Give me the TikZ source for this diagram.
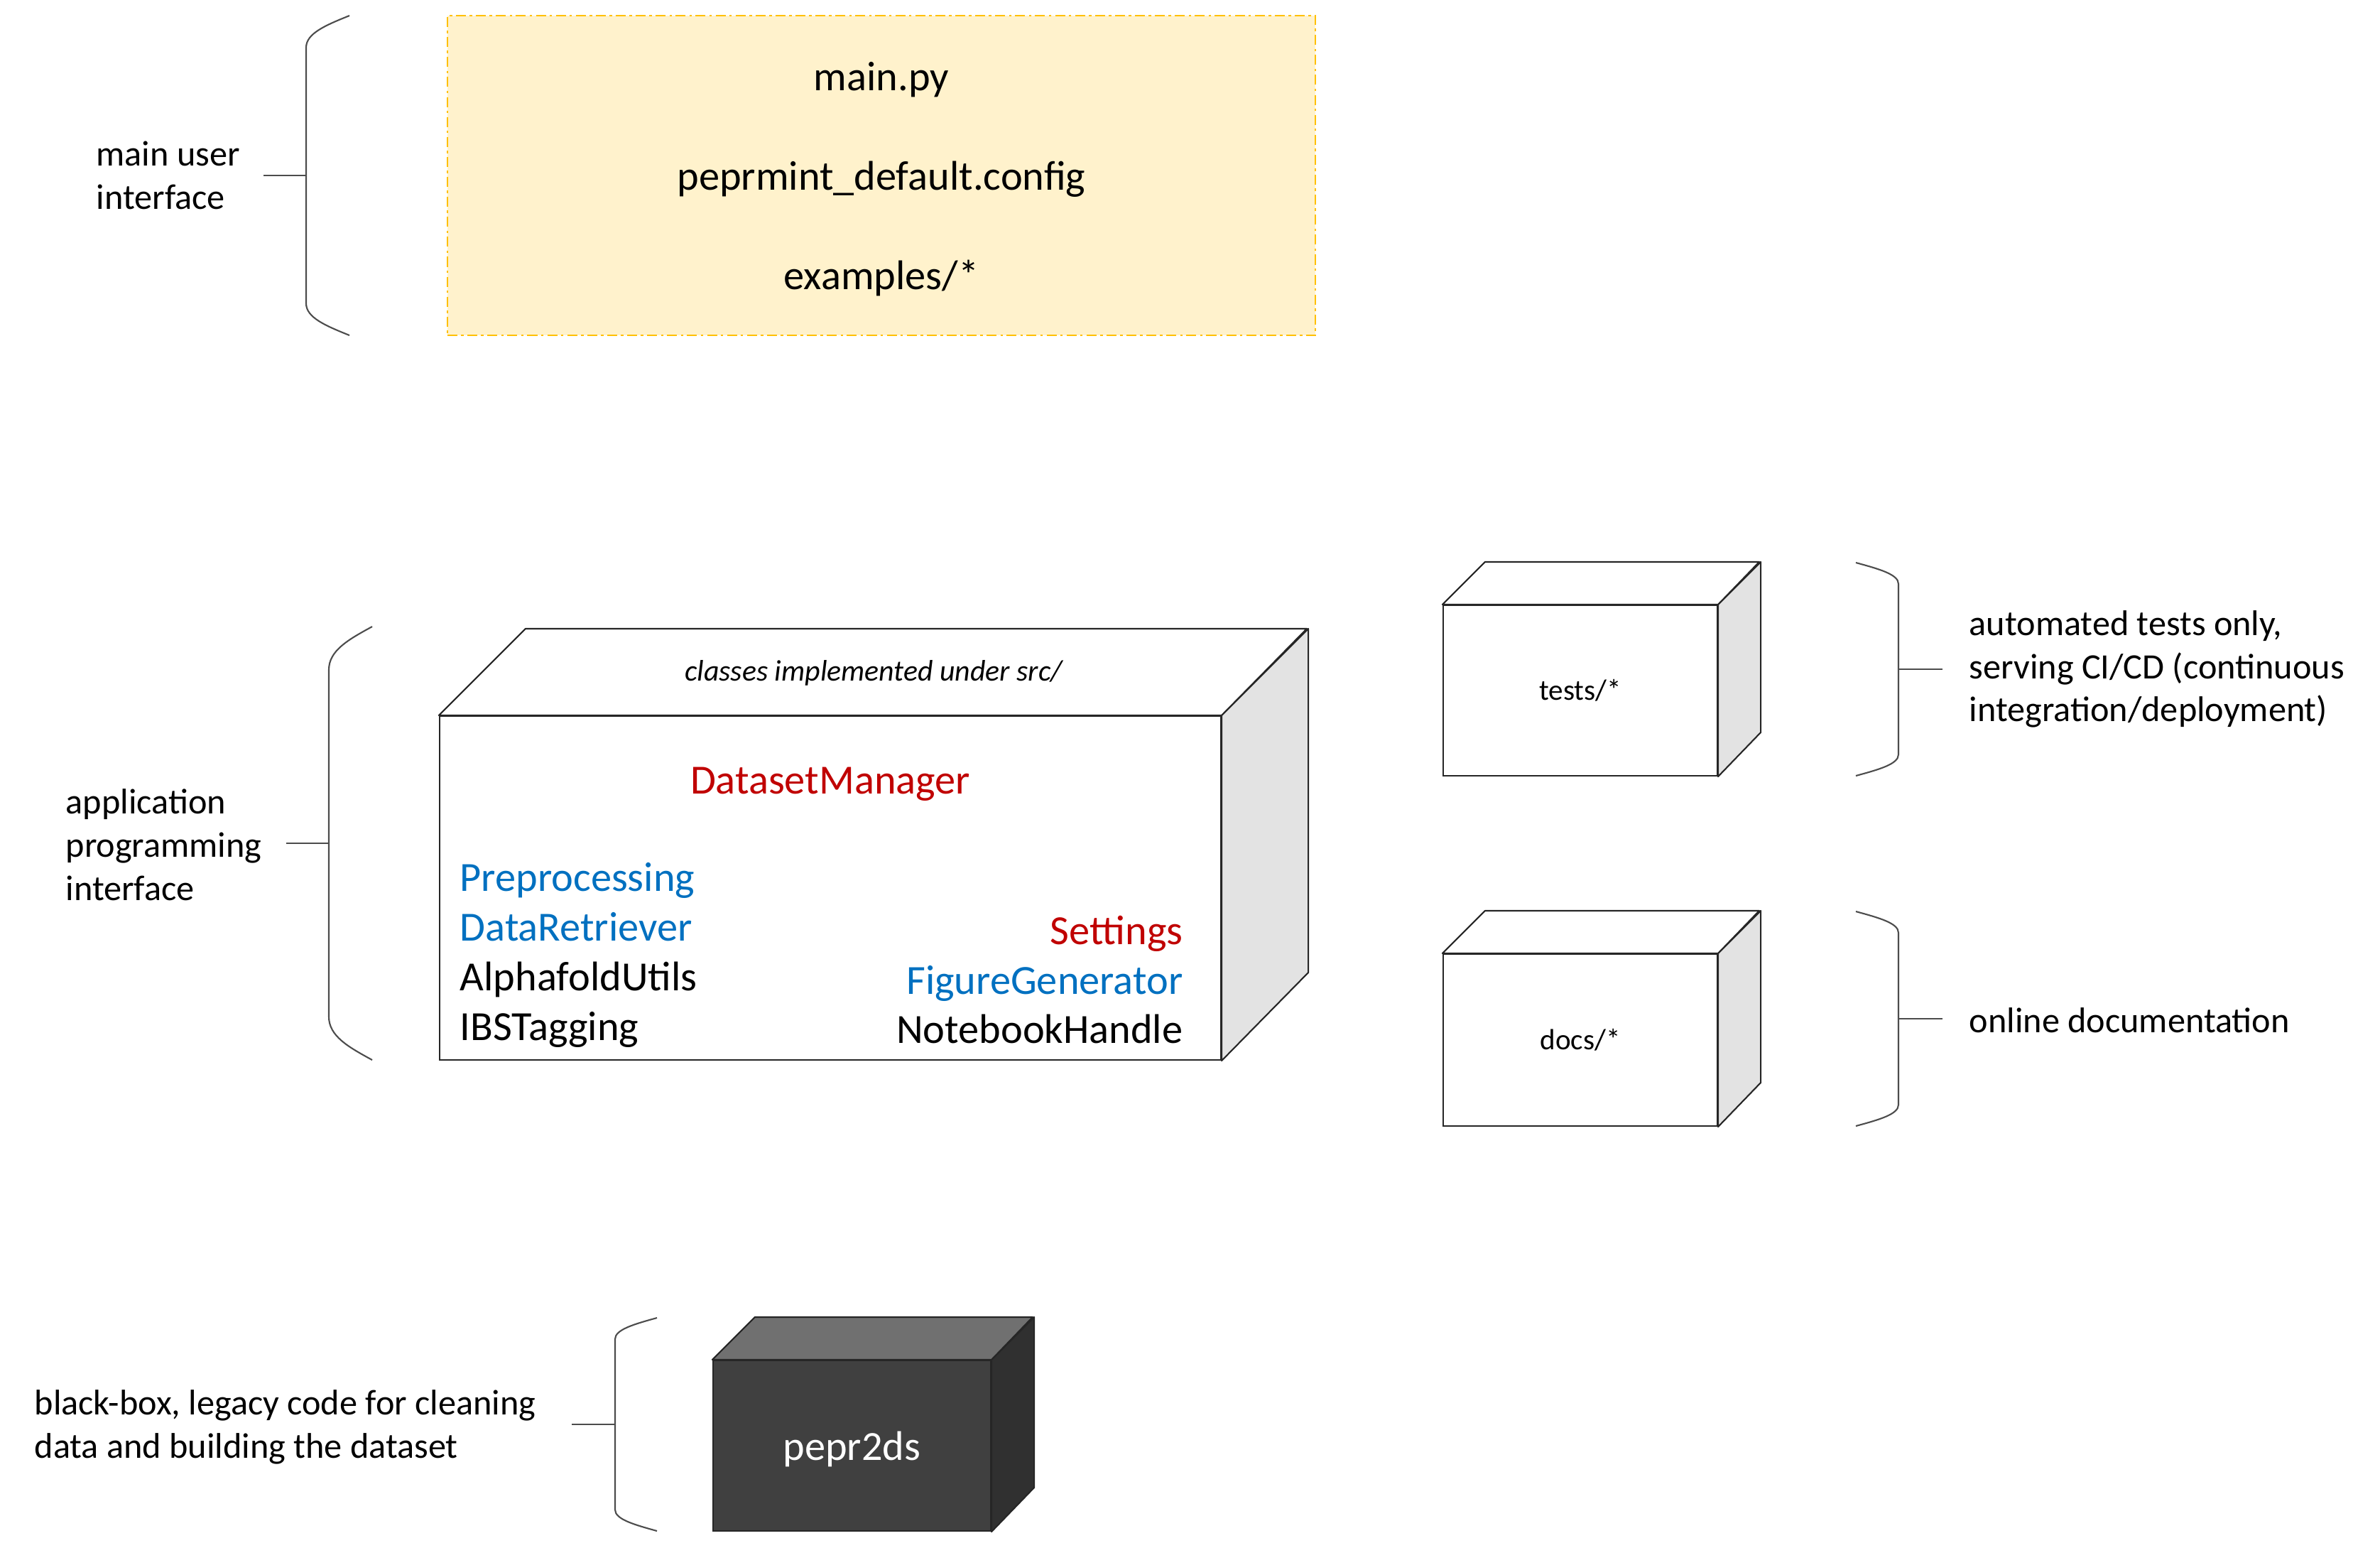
\documentclass[tikz,border=0pt]{standalone}
\usepackage{fontspec}
\setmainfont{Carlito}

\definecolor{uifill}{HTML}{FFF2CC}
\definecolor{uiline}{HTML}{FFC000}
\definecolor{clsred}{HTML}{C00000}
\definecolor{clsblue}{HTML}{0070C0}
\definecolor{sideface}{HTML}{E3E3E3}
\definecolor{darkfront}{HTML}{404040}
\definecolor{darktop}{HTML}{707070}
\definecolor{darkside}{HTML}{303030}

\begin{document}
\begin{tikzpicture}[x=1cm,y=1cm,
    frontface/.style={draw=black!85, line width=0.6pt, inner sep=0pt},
    face/.style={draw=black!85, line width=0.6pt, line join=round},
    brace/.style={draw=black!70, line width=0.6pt},
    note/.style={anchor=west, inner sep=0pt, align=left, font=\fontsize{14.3}{17.3}\selectfont},
    cls/.style={inner sep=0pt, font=\fontsize{16.6}{19.9}\selectfont}]
    \useasboundingbox (0,0) rectangle (33.51,-21.78);

    % main user interface
    \node[draw=uiline, fill=uifill, line width=0.6pt, dash pattern=on 4pt off 1.5pt on 1pt off 1.5pt, minimum width=12.22cm, minimum height=4.5cm] (ui) at (12.41,-2.47) {};
    \node[inner sep=0pt, align=center, font=\fontsize{16.6}{39.9}\selectfont] (uifiles) at ([yshift=-0.05cm]ui.center) {main.py\\peprmint\_default.config\\examples/*};
    \draw[brace] (4.92,-0.22) .. controls (4.585,-0.355) and (4.31,-0.47) .. (4.31,-0.67) -- (4.31,-4.27) .. controls (4.31,-4.47) and (4.585,-4.585) .. (4.92,-4.72);
    \coordinate (uimid) at (4.31,-2.47);
    \coordinate (uitick) at (3.71,-2.47);
    \draw[brace] (uimid) -- (uitick);
    \node[note] (uinote) at (1.35,-2.47) {main user\\interface};

    % application programming interface
    \node[frontface, minimum width=11.0cm, minimum height=4.84cm] (api) at (11.69,-12.50) {};
    \draw[face, fill=white] (api.north west) -- ++(1.22,1.22) -- ++(11.0,0) -- (api.north east) -- cycle;
    \draw[face, fill=sideface] (api.north east) -- ++(1.22,1.22) -- ++(0,-4.84) -- (api.south east) -- cycle;
    \node[inner sep=0pt, anchor=base, font=\fontsize{11.9}{14}\selectfont\itshape] (srcnote) at (12.30,-9.58) {classes implemented under src/};
    \node[cls, anchor=base, text=clsred] (manager) at (11.69,-11.17) {DatasetManager};
    \node[cls, anchor=base west, text=clsblue] (prep) at (6.47,-12.54) {Preprocessing};
    \node[cls, anchor=base west, text=clsblue] (retr) at (6.47,-13.24) {DataRetriever};
    \node[cls, anchor=base west] (alpha) at (6.47,-13.94) {AlphafoldUtils};
    \node[cls, anchor=base west] (ibs) at (6.47,-14.64) {IBSTagging};
    \node[cls, anchor=base east, text=clsred] (settings) at (16.66,-13.29) {Settings};
    \node[cls, anchor=base east, text=clsblue] (figgen) at (16.66,-13.99) {FigureGenerator};
    \node[cls, anchor=base east] (notebook) at (16.66,-14.68) {NotebookHandle};
    \draw[brace] (5.24,-8.82) .. controls (4.905,-9.003) and (4.63,-9.156) .. (4.63,-9.43) -- (4.63,-14.31) .. controls (4.63,-14.584) and (4.905,-14.737) .. (5.24,-14.92);
    \coordinate (apimid) at (4.63,-11.87);
    \coordinate (apitick) at (4.03,-11.87);
    \draw[brace] (apimid) -- (apitick);
    \node[note] (apinote) at (0.92,-11.89) {application\\programming\\interface};

    % tests and docs
    \node[frontface, minimum width=3.86cm, minimum height=2.4cm, font=\fontsize{11.7}{14}\selectfont] (tests) at (22.25,-9.72) {tests/*};
    \draw[face, fill=white] (tests.north west) -- ++(0.6,0.6) -- ++(3.86,0) -- (tests.north east) -- cycle;
    \draw[face, fill=sideface] (tests.north east) -- ++(0.6,0.6) -- ++(0,-2.4) -- (tests.south east) -- cycle;
    \node[frontface, minimum width=3.86cm, minimum height=2.42cm, font=\fontsize{11.7}{14}\selectfont] (docs) at (22.25,-14.64) {docs/*};
    \draw[face, fill=white] (docs.north west) -- ++(0.6,0.6) -- ++(3.86,0) -- (docs.north east) -- cycle;
    \draw[face, fill=sideface] (docs.north east) -- ++(0.6,0.6) -- ++(0,-2.42) -- (docs.south east) -- cycle;
    \draw[brace] (26.13,-7.92) .. controls (26.46,-8.01) and (26.73,-8.085) .. (26.73,-8.22) -- (26.73,-10.62) .. controls (26.73,-10.755) and (26.46,-10.83) .. (26.13,-10.92);
    \coordinate (testsmid) at (26.73,-9.42);
    \coordinate (teststick) at (27.35,-9.42);
    \draw[brace] (testsmid) -- (teststick);
    \node[note] (testsnote) at (27.72,-9.42) {automated tests only,\\serving CI/CD (continuous\\integration/deployment)};
    \draw[brace] (26.13,-12.83) .. controls (26.46,-12.92) and (26.73,-12.995) .. (26.73,-13.13) -- (26.73,-15.55) .. controls (26.73,-15.685) and (26.46,-15.76) .. (26.13,-15.85);
    \coordinate (docsmid) at (26.73,-14.34);
    \coordinate (docstick) at (27.35,-14.34);
    \draw[brace] (docsmid) -- (docstick);
    \node[note] (docsnote) at (27.72,-14.36) {online documentation};

    % legacy black box
    \node[frontface, fill=darkfront, text=white, minimum width=3.91cm, minimum height=2.4cm, font=\fontsize{16.6}{19.9}\selectfont] (legacy) at (11.995,-20.35) {};
    \node[cls, text=white] (legacyname) at ([yshift=-0.05cm]legacy.center) {pepr2ds};
    \draw[face, fill=darktop] (legacy.north west) -- ++(0.6,0.6) -- ++(3.91,0) -- (legacy.north east) -- cycle;
    \draw[face, fill=darkside] (legacy.north east) -- ++(0.6,0.6) -- ++(0,-2.4) -- (legacy.south east) -- cycle;
    \draw[brace] (9.25,-18.55) .. controls (8.925,-18.64) and (8.66,-18.715) .. (8.66,-18.85) -- (8.66,-21.25) .. controls (8.66,-21.385) and (8.925,-21.46) .. (9.25,-21.55);
    \coordinate (legacymid) at (8.66,-20.05);
    \coordinate (legacytick) at (8.05,-20.05);
    \draw[brace] (legacymid) -- (legacytick);
    \node[note] (legacynote) at (0.48,-20.09) {black-box, legacy code for cleaning\\data and building the dataset};
\end{tikzpicture}
\end{document}
